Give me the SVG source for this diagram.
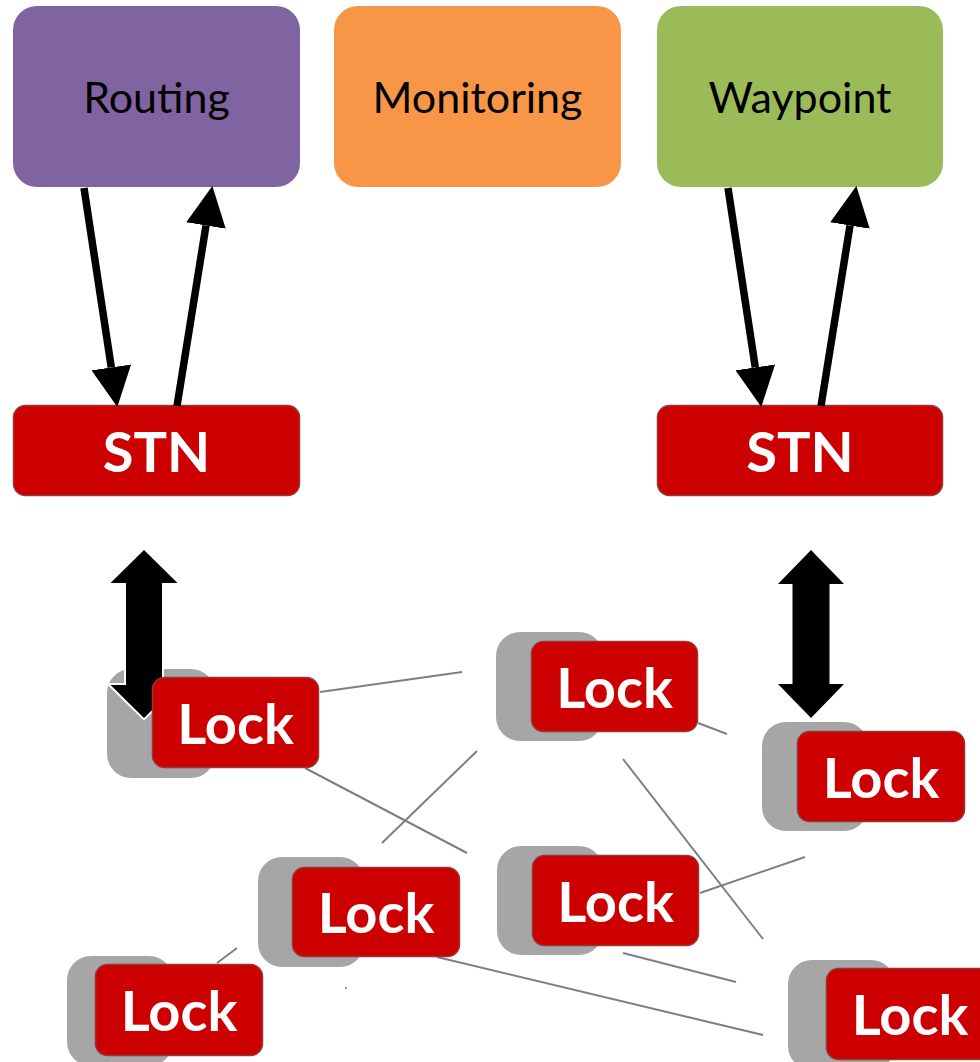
<svg xmlns="http://www.w3.org/2000/svg" width="980" height="1062" viewBox="0 0 980 1062">
  <style>
    .svc { stroke: none; }
    .svc-label { font-family: Lato, "Open Sans", "Liberation Sans", sans-serif; font-size: 43px; fill: #000; text-anchor: middle; }
    .red { fill: #CC0000; stroke: #953735; stroke-width: 1.5; }
    .red-label { font-family: Lato, "Open Sans", "Liberation Sans", sans-serif; font-weight: bold; font-size: 56px; fill: #fff; text-anchor: middle; }
    .shadow { fill: #A6A6A6; }
    .link { stroke: #7F7F7F; stroke-width: 2; fill: none; }
    .flow { stroke: #000; stroke-width: 7.5; fill: none; marker-end: url(#head); }
    .dbl { fill: #000; stroke: #fff; stroke-width: 4; paint-order: stroke; stroke-linejoin: miter; }
  </style>
  <defs>
    <marker id="head" markerUnits="userSpaceOnUse" markerWidth="40" markerHeight="40" viewBox="0 0 38 38" refX="0" refY="19" orient="auto">
      <path d="M0,0 L38,19 L0,38 Z" fill="#000"/>
    </marker>
  </defs>

  <!-- background -->
  <rect x="0" y="0" width="980" height="1062" fill="#fff"/>

  <!-- service boxes -->
  <g id="routing">
    <rect class="svc" x="13" y="6" width="287" height="181" rx="24" fill="#8064A2"/>
    <text class="svc-label" x="156.5" y="113">Routing</text>
  </g>
  <g id="monitoring">
    <rect class="svc" x="334" y="6" width="287" height="181" rx="24" fill="#F79646"/>
    <text class="svc-label" x="477.5" y="113">Monitoring</text>
  </g>
  <g id="waypoint">
    <rect class="svc" x="657" y="6" width="286" height="181" rx="24" fill="#9BBB59"/>
    <text class="svc-label" x="800" y="113">Waypoint</text>
  </g>

  <!-- STN boxes -->
  <g id="stn-left">
    <rect class="red" x="13.5" y="405.5" width="286" height="90" rx="12"/>
    <text class="red-label" x="156.5" y="471.5">STN</text>
  </g>
  <g id="stn-right">
    <rect class="red" x="657.5" y="405.5" width="285" height="90" rx="12"/>
    <text class="red-label" x="800" y="471.5">STN</text>
  </g>

  <!-- lock shadows sit beneath the link arrows -->
  <g id="lock-shadows">
    <rect class="shadow" x="107" y="669" width="108" height="109" rx="24"/>
    <rect class="shadow" x="496" y="632" width="107" height="109" rx="24"/>
    <rect class="shadow" x="762" y="722" width="106" height="109" rx="24"/>
    <rect class="shadow" x="497" y="846" width="106" height="109" rx="24"/>
    <rect class="shadow" x="258" y="857" width="106" height="110" rx="24"/>
    <rect class="shadow" x="67" y="956" width="106" height="110" rx="24"/>
    <rect class="shadow" x="788" y="960" width="107" height="110" rx="24"/>
  </g>

  <!-- connectors -->
  <g id="connectors">
    <!-- request / reply arrows between services and STN -->
    <line class="flow" x1="84" y1="188" x2="111.3" y2="367.4"/>
    <line class="flow" x1="177" y1="406" x2="206" y2="225.5"/>
    <line class="flow" x1="728" y1="188" x2="755.3" y2="367.4"/>
    <line class="flow" x1="821" y1="406" x2="850" y2="225.5"/>

    <!-- STN to lock network -->
    <path class="dbl" d="M144,550 L177.5,583 L162,583 L162,685 L177.5,685 L144,718 L110.5,685 L126,685 L126,583 L110.5,583 Z"/>
    <path class="dbl" d="M811,550 L844,584 L829.5,584 L829.5,684 L844,684 L811,718 L778,684 L792.5,684 L792.5,584 L778,584 Z"/>

    <!-- lock-to-lock links -->
    <line class="link" x1="320" y1="692" x2="462" y2="672"/>
    <line class="link" x1="305" y1="768" x2="467" y2="853"/>
    <line class="link" x1="382" y1="843" x2="477" y2="751"/>
    <line class="link" x1="698" y1="723" x2="727" y2="734"/>
    <line class="link" x1="623" y1="759" x2="763" y2="939"/>
    <line class="link" x1="700" y1="893" x2="805" y2="857"/>
    <line class="link" x1="623" y1="953" x2="736" y2="982"/>
    <line class="link" x1="437" y1="957" x2="763" y2="1035"/>
    <line class="link" x1="217" y1="963" x2="237" y2="948"/>
    <circle cx="346" cy="988" r="1" fill="#7F7F7F"/>
  </g>

  <!-- lock nodes -->
  <g id="lock-1">
    <rect class="red" x="152.5" y="677.5" width="166" height="90" rx="12"/>
    <text class="red-label" x="235.5" y="743.5">Lock</text>
  </g>
  <g id="lock-2">
    <rect class="red" x="531.5" y="641.5" width="166" height="90" rx="12"/>
    <text class="red-label" x="614.5" y="707.5">Lock</text>
  </g>
  <g id="lock-3">
    <rect class="red" x="797.5" y="731.5" width="167" height="90" rx="12"/>
    <text class="red-label" x="881" y="797.5">Lock</text>
  </g>
  <g id="lock-4">
    <rect class="red" x="532.5" y="855.5" width="166" height="90" rx="12"/>
    <text class="red-label" x="615.5" y="921.5">Lock</text>
  </g>
  <g id="lock-5">
    <rect class="red" x="292.5" y="867.5" width="167" height="89" rx="12"/>
    <text class="red-label" x="376" y="933">Lock</text>
  </g>
  <g id="lock-6">
    <rect class="red" x="95.5" y="964.5" width="167" height="91" rx="12"/>
    <text class="red-label" x="179" y="1031">Lock</text>
  </g>
  <g id="lock-7">
    <rect class="red" x="826.5" y="968.5" width="167" height="91" rx="12"/>
    <text class="red-label" x="910" y="1035">Lock</text>
  </g>
</svg>
